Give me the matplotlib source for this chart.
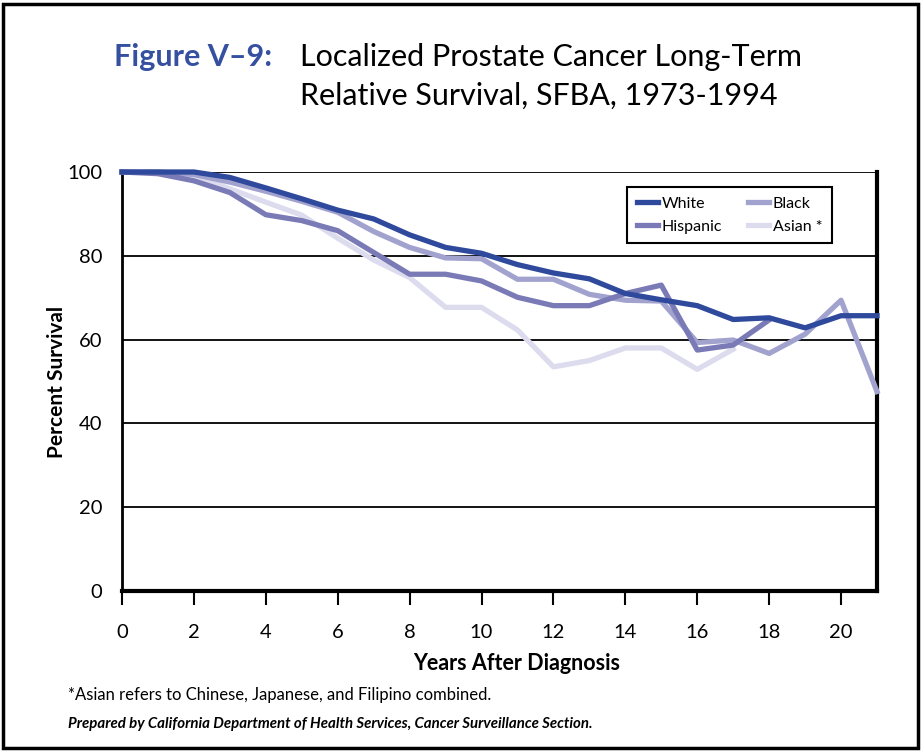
import numpy as np
import matplotlib.pyplot as plt
from matplotlib.patches import Rectangle

years = list(range(0, 22))
white = [100, 100, 100, 98.7, 96.2, 93.6, 90.9, 88.8, 85.0, 82.0, 80.6, 77.9, 75.9,
         74.5, 71.0, 69.5, 68.1, 64.8, 65.2, 62.8, 65.7, 65.7]
black = [100, 100, 99.4, 97.6, 95.4, 93.0, 90.4, 85.8, 82.0, 79.5, 79.3, 74.4, 74.4,
         70.8, 69.4, 69.2, 59.3, 59.9, 56.7, 61.3, 69.4, 47.6]
hispanic = [100, 99.6, 97.9, 95.1, 89.8, 88.4, 86.0, 80.8, 75.6, 75.6, 74.0, 70.1, 68.1,
            68.1, 71.0, 73.0, 57.5, 58.7, 64.7]
asian = [100, 100, 99.2, 96.0, 92.8, 89.7, 84.2, 79.0, 74.8, 67.7, 67.7, 62.3, 53.5,
         55.0, 58.0, 58.0, 52.9, 57.7]

c_white = '#2f4a9c'
c_black = '#a2a2cf'
c_hisp = '#7a7ab6'
c_asian = '#dcdcee'

plt.rcParams['font.family'] = ['Lato', 'DejaVu Sans']

fig = plt.figure(figsize=(9.23, 7.52), dpi=100)
ax = fig.add_axes([122 / 923, 1 - 591 / 752, (877 - 122) / 923, (591 - 172) / 752])

ax.plot(years[:len(asian)], asian, color=c_asian, lw=3.8, label='Asian *', clip_on=False, zorder=3)
ax.plot(years[:len(black)], black, color=c_black, lw=3.8, label='Black', clip_on=False, zorder=4)
ax.plot(years[:len(hispanic)], hispanic, color=c_hisp, lw=3.8, label='Hispanic', clip_on=False, zorder=5)
ax.plot(years[:len(white)], white, color=c_white, lw=3.8, label='White', clip_on=False, zorder=6)

ax.set_xlim(0, 21)
ax.set_ylim(0, 100)
ax.set_xticks(range(0, 21, 2))
ax.set_yticks(range(0, 101, 20))
ax.tick_params(axis='x', length=10, width=1.5, direction='out', pad=14, labelsize=14.5)
ax.tick_params(axis='y', length=0, pad=14, labelsize=14.5)
ax.grid(axis='y', color='black', lw=1.3)
ax.set_axisbelow(True)
ax.spines['top'].set_visible(False)
ax.spines['left'].set_linewidth(2)
ax.spines['bottom'].set_linewidth(3)
ax.spines['right'].set_linewidth(3)

ax.set_ylabel('Percent Survival', fontsize=15, fontweight='bold', labelpad=0)

# legend rows: White, Black / Hispanic, Asian *
handles, labels = ax.get_legend_handles_labels()
order = [3, 2, 1, 0]
leg = ax.legend([handles[i] for i in order], [labels[i] for i in order], ncol=2,
                loc='upper right', bbox_to_anchor=(0.940, 0.964), borderaxespad=0,
                fontsize=11.5, handlelength=1.3, handletextpad=0.25, columnspacing=1.6,
                fancybox=False, framealpha=1, edgecolor='black', borderpad=0.6,
                labelspacing=0.55)
leg.get_frame().set_linewidth(1.5)

fig.text(517 / 923, 1 - 664 / 752, 'Years After Diagnosis', fontsize=15.5, fontweight='bold',
         ha='center', va='center')

fig.text(272 / 923, 1 - 57 / 752, 'Figure V\u20139:', fontsize=22, fontweight='bold',
         color='#3550a0', ha='right', va='center')
fig.text(300 / 923, 1 - 57 / 752, 'Localized Prostate Cancer Long-Term', fontsize=22,
         ha='left', va='center')
fig.text(300 / 923, 1 - 96 / 752, 'Relative Survival, SFBA, 1973-1994', fontsize=22,
         ha='left', va='center')

fig.text(68 / 923, 1 - 695 / 752, '*Asian refers to Chinese, Japanese, and Filipino combined.',
         fontsize=12, ha='left', va='center')
fig.text(68 / 923, 1 - 724 / 752,
         'Prepared by California Department of Health Services, Cancer Surveillance Section.',
         fontsize=10.8, fontweight='bold', fontstyle='italic', ha='left', va='center')

fig.patches.append(Rectangle((3 / 923, 4 / 752), 915 / 923, 744 / 752, transform=fig.transFigure,
                             fill=False, edgecolor='black', lw=2.5))

fig.savefig('out.png', dpi=100)
